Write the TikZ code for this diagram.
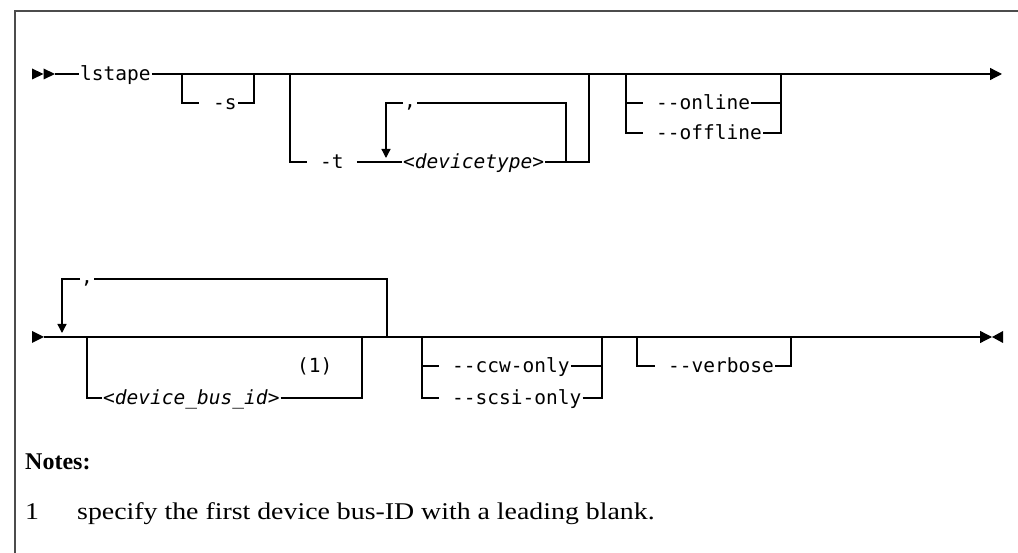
\documentclass[tikz,border=0pt]{standalone}
\usepackage{fontspec}
\setmainfont{Liberation Serif}
\newfontfamily\synfont{DejaVu Sans Mono}[ItalicFont={DejaVu Sans Mono Oblique},Ligatures=TeXOff]
\newfontfamily\notefont{Liberation Serif}[FakeStretch=1.16]
\usetikzlibrary{arrows.meta}

\tikzset{
    rail/.style={line width=1.3pt, black},
    kw/.style={font=\synfont\fontsize{19.5}{20}\selectfont, inner xsep=1pt, inner ysep=0pt,
        text height=14pt, text depth=0pt, anchor=west},
    sep/.style={kw, text height=10pt},
    down/.style={-{Triangle[length=9pt,width=9pt]}},
    fwd/.style={-{Triangle[length=12pt,width=12pt]}},
    note/.style={anchor=base west, inner sep=0pt, font=\notefont\fontsize{24}{28}\selectfont},
}

\begin{document}
\begin{tikzpicture}[x=1pt, y=-1pt]
        \useasboundingbox (0,0) rectangle (1018,553);
        % Frame:
        \draw[line width=1.6pt, black!70] (15,553) -- (15,11) -- (1018,11);
        % First line, main rail:
        \fill (32,68.5) -- (43.5,74) -- (32,79.5) -- cycle;
        \fill (43.5,68.5) -- (55,74) -- (43.5,79.5) -- cycle;
        \coordinate (r1s) at (55,74);
        \coordinate (r1e) at (1002,74);
        \node[kw] (lstape) at (79,74) {lstape};
        \draw[rail] (r1s) -- (lstape.west);
        \draw[rail, fwd] (lstape.east) -- (r1e);
        % -s
        \coordinate (sL) at (182,74);
        \coordinate (sR) at (254,74);
        \node[kw] (optS) at (212,103) {-s};
        \draw[rail] (sL) |- ([xshift=-13pt]optS.west);
        \draw[rail] (optS.east) -| (sR);
        % -t with repeat
        \coordinate (tL) at (290,74);
        \coordinate (tR) at (589,74);
        \coordinate (tRep) at (566,162);
        \coordinate (tArr) at (386,158);
        \node[kw] (optT) at (319,162) {-t};
        \node[kw] (devtype) at (402,162) {<\textit{devicetype}>};
        \node[sep] (comma1) at (403,103) {,};
        \draw[rail] (tL) |- ([xshift=-12pt]optT.west);
        \draw[rail] ([xshift=12pt]optT.east) -- (devtype.west);
        \draw[rail] (devtype.east) -| (tR);
        \draw[rail] (tRep) |- (comma1.east);
        \draw[rail, down] (comma1.west) -| (tArr);
        % --online / --offline
        \coordinate (oL) at (626,74);
        \coordinate (oR) at (781,74);
        \node[kw] (online) at (655,103) {--online};
        \node[kw] (offline) at (655,133) {--offline};
        \draw[rail] (oL) |- ([xshift=-12pt]offline.west);
        \draw[rail] (oL |- online.west) -- ([xshift=-12pt]online.west);
        \draw[rail] (online.east) -| (oR);
        \draw[rail] (offline.east) -| (oR);
        % Second line, main rail:
        \fill (32,331) -- (44,337) -- (32,343) -- cycle;
        \coordinate (r2s) at (44,337);
        \coordinate (r2e) at (992,337);
        \draw[rail, fwd] (r2s) -- (r2e);
        \fill (1003,331) -- (992,337) -- (1003,343) -- cycle;
        % bus id with repeat
        \coordinate (bRep) at (387,337);
        \coordinate (bArr) at (62,333);
        \coordinate (bL) at (87,337);
        \coordinate (bR) at (362,337);
        \node[sep] (comma2) at (80,279) {,};
        \node[kw] (busid) at (102,398) {<\textit{device\_bus\_id}>};
        \node[kw] (fn1) at (296,366) {(1)};
        \draw[rail] (bRep) |- (comma2.east);
        \draw[rail, down] (comma2.west) -| (bArr);
        \draw[rail] (bL) |- (busid.west);
        \draw[rail] (busid.east) -| (bR);
        % --ccw-only / --scsi-only
        \coordinate (cL) at (422,337);
        \coordinate (cR) at (602,337);
        \node[kw] (ccw) at (451,366) {--ccw-only};
        \node[kw] (scsi) at (451,398) {--scsi-only};
        \draw[rail] (cL) |- ([xshift=-12pt]scsi.west);
        \draw[rail] (cL |- ccw.west) -- ([xshift=-12pt]ccw.west);
        \draw[rail] (ccw.east) -| (cR);
        \draw[rail] (scsi.east) -| (cR);
        % --verbose
        \coordinate (vL) at (637,337);
        \coordinate (vR) at (791,337);
        \node[kw] (verbose) at (667,366) {--verbose};
        \draw[rail] (vL) |- ([xshift=-12pt]verbose.west);
        \draw[rail] (verbose.east) -| (vR);
        % Notes:
        \node[note, font=\rmfamily\fontsize{24}{28}\selectfont\bfseries] (notes) at (25,469) {Notes:};
        \node[note] (n1) at (25,519) {1};
        \node[note] (n1txt) at (77,519) {specify the first device bus-ID with a leading blank.};
\end{tikzpicture}
\end{document}
